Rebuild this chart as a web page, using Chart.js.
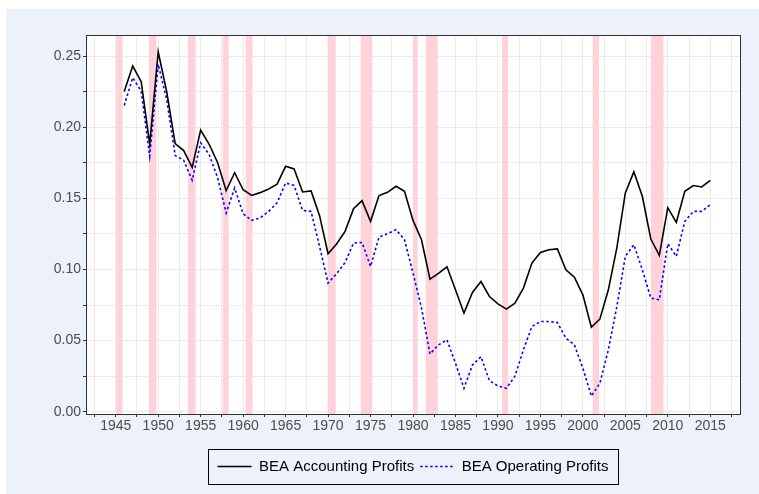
<!DOCTYPE html>
<html>
<head>
<meta charset="utf-8">
<script src="https://cdn.jsdelivr.net/npm/chart.js@4.4.1/dist/chart.umd.min.js"></script>
<style>
  body { margin: 0; background: #fff; }
  #wrap { position: absolute; left: 6px; top: 9px; width: 753px; height: 485px; background: #edf2fa; }
</style>
</head>
<body>
<div id="wrap"><canvas id="profitsChart" width="753" height="485"></canvas></div>
<script>
const years = [1946, 1947, 1948, 1949, 1950, 1951, 1952, 1953, 1954, 1955,
  1956, 1957, 1958, 1959, 1960, 1961, 1962, 1963, 1964, 1965,
  1966, 1967, 1968, 1969, 1970, 1971, 1972, 1973, 1974, 1975,
  1976, 1977, 1978, 1979, 1980, 1981, 1982, 1983, 1984, 1985,
  1986, 1987, 1988, 1989, 1990, 1991, 1992, 1993, 1994, 1995,
  1996, 1997, 1998, 1999, 2000, 2001, 2002, 2003, 2004, 2005,
  2006, 2007, 2008, 2009, 2010, 2011, 2012, 2013, 2014, 2015];

const accountingProfits = [0.225, 0.243, 0.232, 0.188, 0.253, 0.225, 0.1885, 0.1836, 0.1718, 0.198,
  0.188, 0.175, 0.1554, 0.168, 0.156, 0.152, 0.154, 0.1566, 0.160, 0.1725,
  0.1707, 0.1545, 0.1552, 0.1378, 0.1111, 0.1179, 0.1268, 0.1427, 0.1484, 0.1338,
  0.1519, 0.1542, 0.1585, 0.1549, 0.1345, 0.1209, 0.0932, 0.0972, 0.1019, 0.0857,
  0.0693, 0.0838, 0.0915, 0.081, 0.0758, 0.0721, 0.0763, 0.0869, 0.1045, 0.112,
  0.1139, 0.1144, 0.0998, 0.0946, 0.0822, 0.0594, 0.0651, 0.0857, 0.1151, 0.1538,
  0.1686, 0.1514, 0.1214, 0.1099, 0.1434, 0.1331, 0.1549, 0.159, 0.158, 0.1627];

const operatingProfits = [0.2153, 0.2348, 0.2254, 0.1796, 0.2442, 0.2195, 0.1801, 0.1768, 0.1627, 0.189,
  0.1808, 0.1644, 0.1397, 0.1573, 0.1392, 0.1345, 0.1362, 0.1408, 0.1468, 0.1608,
  0.159, 0.1415, 0.1408, 0.1162, 0.0904, 0.097, 0.1049, 0.1186, 0.119, 0.1021,
  0.1228, 0.1251, 0.128, 0.1209, 0.0975, 0.073, 0.0406, 0.047, 0.0505, 0.0341,
  0.0165, 0.0329, 0.0387, 0.0218, 0.0181, 0.0165, 0.025, 0.0435, 0.0599, 0.0634,
  0.0634, 0.0627, 0.0517, 0.047, 0.0306, 0.011, 0.02, 0.0435, 0.0739, 0.1092,
  0.1174, 0.0998, 0.0799, 0.0787, 0.1181, 0.1092, 0.1338, 0.1408, 0.1408, 0.1456];

// recession periods (shaded)
const recessionStart = [1945.05, 1948.9, 1953.5, 1957.6, 1960.3, 1969.95, 1973.85, 1980.0, 1981.5, 1990.5, 2001.15, 2008.0];
const recessionEnd   = [1945.8, 1949.8, 1954.4, 1958.3, 1961.1, 1970.9, 1975.2, 1980.55, 1982.9, 1991.2, 2001.9, 2009.5];

const xGridValues = [1942.5, 1945, 1947.5, 1950, 1952.5, 1955, 1957.5, 1960, 1962.5, 1965, 1967.5, 1970,
  1972.5, 1975, 1977.5, 1980, 1982.5, 1985, 1987.5, 1990, 1992.5, 1995, 1997.5, 2000, 2002.5, 2005,
  2007.5, 2010, 2012.5, 2015, 2017.5];
const xTickLabels = [1945, 1950, 1955, 1960, 1965, 1970, 1975, 1980, 1985, 1990, 1995, 2000, 2005, 2010, 2015];
const yGridValues = [0, 0.025, 0.05, 0.075, 0.1, 0.125, 0.15, 0.175, 0.2, 0.225, 0.25];
const yTickLabels = ['0.00', '0.05', '0.10', '0.15', '0.20', '0.25'];

const FONT = '"Liberation Sans", Arial, sans-serif';

const panelDecor = {
    id: 'panelDecor',
    beforeDraw(chart) {
        const { ctx, chartArea } = chart;
        ctx.save();
        ctx.fillStyle = '#fff';
        ctx.fillRect(chartArea.left, chartArea.top, chartArea.right - chartArea.left, chartArea.bottom - chartArea.top);
        ctx.restore();
    },
    beforeDatasetsDraw(chart) {
        const { ctx, chartArea, scales } = chart;
        ctx.save();
        ctx.fillStyle = '#ffd2da';
        recessionStart.forEach((s, i) => {
            const x1 = scales.x.getPixelForValue(s);
            const x2 = scales.x.getPixelForValue(recessionEnd[i]);
            ctx.fillRect(x1, chartArea.top, x2 - x1, chartArea.bottom - chartArea.top);
        });
        ctx.restore();
    },
    afterDraw(chart) {
        const { ctx, chartArea, legend } = chart;
        ctx.save();
        ctx.strokeStyle = '#333';
        ctx.lineWidth = 1;
        ctx.strokeRect(Math.round(chartArea.left) + 0.5, Math.round(chartArea.top) + 0.5,
            Math.round(chartArea.right - chartArea.left), Math.round(chartArea.bottom - chartArea.top));
        // box around legend
        const boxes = legend.legendHitBoxes;
        if (boxes && boxes.length) {
            const first = boxes[0], last = boxes[boxes.length - 1];
            const l = Math.round(first.left - 10) + 0.5;
            const r = Math.round(last.left + last.width + 10) + 0.5;
            const t = Math.round(first.top - 10) + 0.5;
            const b = Math.round(first.top + first.height + 10) + 0.5;
            ctx.strokeStyle = '#000';
            ctx.strokeRect(l, t, r - l, b - t);
        }
        ctx.restore();
    }
};

const ctx = document.getElementById('profitsChart').getContext('2d');
new Chart(ctx, {
    type: 'line',
    data: {
        datasets: [{
            label: 'BEA Accounting Profits',
            data: years.map((y, i) => ({ x: y, y: accountingProfits[i] })),
            borderColor: '#000',
            borderWidth: 1.6,
            pointRadius: 0,
            tension: 0
        }, {
            label: 'BEA Operating Profits',
            data: years.map((y, i) => ({ x: y, y: operatingProfits[i] })),
            borderColor: '#0000ff',
            borderWidth: 1.6,
            borderDash: [2.5, 2.5],
            pointRadius: 0,
            tension: 0
        }]
    },
    options: {
        animation: false,
        responsive: false,
        layout: { padding: { top: 26, right: 19, left: 0, bottom: 10 } },
        plugins: {
            tooltip: { enabled: false },
            legend: {
                position: 'bottom',
                fullSize: false,
                labels: {
                    usePointStyle: true,
                    pointStyle: 'line',
                    pointStyleWidth: 34,
                    padding: 6,
                    color: '#000',
                    font: { family: FONT, size: 15 },
                    generateLabels: chart => {
                        const items = Chart.defaults.plugins.legend.labels.generateLabels(chart);
                        items.forEach(item => {
                            const ds = chart.data.datasets[item.datasetIndex];
                            item.lineDash = ds.borderDash || [];
                            item.lineWidth = ds.borderWidth;
                            item.strokeStyle = ds.borderColor;
                        });
                        return items;
                    }
                }
            }
        },
        scales: {
            x: {
                type: 'linear',
                min: 1941.5,
                max: 2018.5,
                afterBuildTicks: scale => { scale.ticks = xGridValues.map(v => ({ value: v })); },
                afterFit: scale => { scale.height = 39; },
                grid: { color: '#ebebeb', lineWidth: 1, tickLength: 3, tickColor: '#333' },
                border: { display: false },
                ticks: {
                    autoSkip: false,
                    maxRotation: 0,
                    padding: 1,
                    color: '#4d4d4d',
                    font: { family: FONT, size: 14 },
                    callback: v => xTickLabels.includes(v) ? String(v) : ''
                }
            },
            y: {
                min: -0.0016,
                max: 0.2648,
                afterBuildTicks: scale => { scale.ticks = yGridValues.map(v => ({ value: v })); },
                afterFit: scale => { scale.width = 80; },
                grid: { color: '#ebebeb', lineWidth: 1, tickLength: 3, tickColor: '#333' },
                border: { display: false },
                ticks: {
                    autoSkip: false,
                    padding: 2,
                    color: '#4d4d4d',
                    font: { family: FONT, size: 14 },
                    callback: v => {
                        const s = v.toFixed(2);
                        return yTickLabels.includes(s) && Math.abs(v * 20 - Math.round(v * 20)) < 1e-6 ? s : '';
                    }
                }
            }
        }
    },
    plugins: [panelDecor]
});
</script>
</body>
</html>
